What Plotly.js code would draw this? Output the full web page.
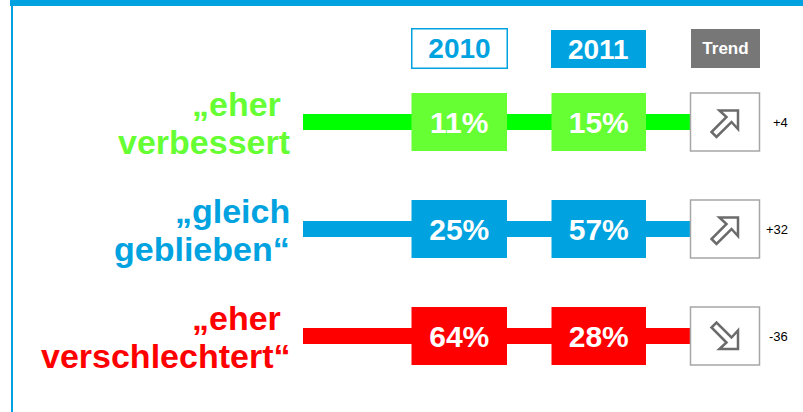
<!DOCTYPE html>
<html><head><meta charset="utf-8">
<script src="https://cdn.plot.ly/plotly-3.0.1.min.js"></script>
<style>html,body{margin:0;padding:0;background:#fff;overflow:hidden}#chart{width:803px;height:412px}</style>
</head><body><div id="chart"></div>
<script>
// ---- data ----
const categories = ['„eher \nverbessert', '„gleich\ngeblieben“', '„eher \nverschlechtert“'];
const years = ['2010', '2011'];
const values2010 = [11, 25, 64];
const values2011 = [15, 57, 28];
const trendHeader = 'Trend';

// ---- styles ----
const BLUE = '#00a3e0';
const boxColors = ['#66ff33', BLUE, '#ff0000'];
const lineColors = ['#00ff00', BLUE, '#ff0000'];
const labelColors = ['#66ff33', BLUE, '#ff0000'];
const FONT = 'Liberation Sans, Arial, Helvetica, sans-serif';

// ---- layout geometry (pixels) ----
const W = 803, H = 412;
const row0 = 122, rowStep = 107;
const headerCenter = 48.5;
const cols = [{x0: 411.5, x1: 507}, {x0: 551.5, x1: 646}];
const trendCol = {x0: 690.5, x1: 759.5};
const connector = {x0: 303, x1: 690};
const boxH = 58, lineH = 16;

const idx = categories.map((_, i) => i);
const px2row = p => (p - row0) / rowStep;
const headerRow = px2row(headerCenter);
const trend = values2011.map((v, i) => v - values2010[i]);

const traces = [];
// connector lines
traces.push({
  type: 'bar', orientation: 'h', y: idx,
  x: idx.map(() => connector.x1 - connector.x0), base: idx.map(() => connector.x0),
  width: lineH / rowStep, marker: {color: lineColors, line: {width: 0}},
  hoverinfo: 'skip', showlegend: false
});
// year boxes
[values2010, values2011].forEach((vals, k) => {
  const c = cols[k];
  traces.push({
    type: 'bar', orientation: 'h', y: idx,
    x: idx.map(() => c.x1 - c.x0), base: idx.map(() => c.x0),
    width: boxH / rowStep, marker: {color: boxColors, line: {width: 0}},
    text: vals.map(v => v + '%'), textposition: 'inside', insidetextanchor: 'middle',
    textangle: 0, constraintext: 'none',
    textfont: {family: FONT, size: 30, color: '#ffffff', weight: 700},
    hoverinfo: 'skip', showlegend: false, cliponaxis: false
  });
});
// trend boxes
traces.push({
  type: 'bar', orientation: 'h', y: idx,
  x: idx.map(() => trendCol.x1 - trendCol.x0), base: idx.map(() => trendCol.x0),
  width: boxH / rowStep, marker: {color: '#ffffff', line: {width: 1.5, color: '#a6a6a6'}},
  hoverinfo: 'skip', showlegend: false, cliponaxis: false
});

const annotations = [];
// headers
years.forEach((yr, k) => {
  const c = cols[k];
  annotations.push({
    x: (c.x0 + c.x1) / 2, y: headerRow, xref: 'x', yref: 'y', text: '<b>' + yr + '</b>',
    showarrow: false, width: c.x1 - c.x0 - (k === 0 ? 1.5 : 0), height: 38, borderpad: 0,
    bgcolor: k === 0 ? '#ffffff' : BLUE, bordercolor: BLUE, borderwidth: k === 0 ? 1.5 : 0,
    font: {family: FONT, size: 28, color: k === 0 ? BLUE : '#ffffff'}, valign: 'middle'
  });
});
annotations.push({
  x: (trendCol.x0 + trendCol.x1) / 2, y: headerRow, xref: 'x', yref: 'y', text: '<b>' + trendHeader + '</b>',
  showarrow: false, width: trendCol.x1 - trendCol.x0, height: 39, borderpad: 0,
  bgcolor: '#777777', borderwidth: 0,
  font: {family: FONT, size: 17, color: '#ffffff'}, valign: 'middle'
});
// category labels (two lines each)
categories.forEach((cat, i) => {
  const lines = cat.split('\n');
  const shifts = [18, -20];
  lines.forEach((ln, j) => {
    annotations.push({
      x: 292, y: i, xref: 'x', yref: 'y', xanchor: 'right', yanchor: 'middle',
      text: '<b>' + ln.replace(/ $/, '\u00a0') + '</b>', showarrow: false, yshift: shifts[j],
      font: {family: FONT, size: 34, color: labelColors[i]}
    });
  });
});
// trend numbers
trend.forEach((t, i) => {
  annotations.push({
    x: 790, y: i, xref: 'x', yref: 'y', xanchor: 'right', yanchor: 'middle',
    text: (t > 0 ? '+' : '') + t, showarrow: false,
    font: {family: FONT, size: 13, color: '#000000'}
  });
});

// hollow block arrow (screen coords: x right, y down, pointing up-right), converted to pixel-mode y-up
function arrowPath(up) {
  const pts = [[13,-13],[13,5.6],[6.5,-1.5],[-8.5,13.5],[-13.5,8.5],[1.5,-6.5],[-5.6,-13]];
  const dy = up ? 1.5 : 0;
  return 'M' + pts.map(p => {
    const sy = up ? p[1] : -p[1];
    return p[0].toFixed(1) + ',' + (-(sy + dy)).toFixed(1);
  }).join('L') + 'Z';
}
const shapes = [];
trend.forEach((t, i) => {
  shapes.push({
    type: 'path', xref: 'x', yref: 'y', xsizemode: 'pixel', ysizemode: 'pixel',
    xanchor: (trendCol.x0 + trendCol.x1) / 2, yanchor: i,
    path: arrowPath(t >= 0), fillcolor: '#ffffff', line: {color: '#6b6b6b', width: 2.5}
  });
});
// frame
shapes.push({type: 'rect', xref: 'paper', yref: 'paper', x0: 10 / W, x1: 1, y0: 1 - 6 / H, y1: 1,
  fillcolor: BLUE, line: {width: 0}, layer: 'above'});
shapes.push({type: 'rect', xref: 'paper', yref: 'paper', x0: 11 / W, x1: 13 / W, y0: 0, y1: 1,
  fillcolor: BLUE, line: {width: 0}, layer: 'above'});

const layout = {
  width: W, height: H, margin: {l: 0, r: 0, t: 0, b: 0, pad: 0},
  paper_bgcolor: '#ffffff', plot_bgcolor: '#ffffff',
  barmode: 'overlay', showlegend: false,
  xaxis: {range: [0, W], visible: false, fixedrange: true},
  yaxis: {range: [px2row(H), px2row(0)], visible: false, fixedrange: true},
  annotations: annotations, shapes: shapes,
  font: {family: FONT}
};
Plotly.newPlot('chart', traces, layout, {staticPlot: true, displayModeBar: false});
</script>
</body></html>
